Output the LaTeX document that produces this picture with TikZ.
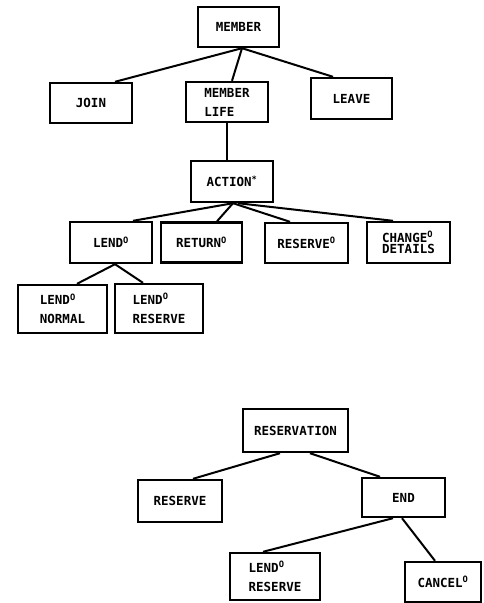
\documentclass[tikz,border=0pt]{standalone}
\usepackage{fontspec}
\setmonofont{DejaVu Sans Mono}
\begin{document}
\begin{tikzpicture}[x=1pt,y=-1pt,
  box/.style={draw, line width=2.4pt, inner sep=0pt, font=\ttfamily\bfseries\fontsize{12.5}{19}\selectfont, align=left},
  tight/.style={font=\ttfamily\bfseries\fontsize{12.5}{11.5}\selectfont},
  link/.style={line width=2pt}]
\newcommand{\opt}{\textsuperscript{O}}
\useasboundingbox (0,0) rectangle (483,603);
% upper structure
\node[box, minimum width=81pt, minimum height=40pt] (member) at (238.5,27) {MEMBER};
\node[box, minimum width=82pt, minimum height=40pt] (join) at (91,103) {JOIN};
\node[box, minimum width=82pt, minimum height=40pt] (life) at (227,102) {MEMBER\\LIFE};
\node[box, minimum width=81pt, minimum height=41pt] (leave) at (351.5,98.5) {LEAVE};
\node[box, minimum width=82pt, minimum height=41pt] (action) at (232,181.5) {ACTION\textsuperscript{*}};
\node[box, minimum width=82pt, minimum height=41pt] (lend) at (111,242.5) {LEND\opt};
\node[box, minimum width=81pt, minimum height=40pt] (return) at (201.5,242.5) {RETURN\opt};
\node[box, minimum width=83pt, minimum height=40pt] (reserve) at (306.5,243) {RESERVE\opt};
\node[box, tight, minimum width=83pt, minimum height=41pt] (change) at (408.5,242.5) {CHANGE\opt\\DETAILS};
\node[box, minimum width=89pt, minimum height=48pt] (normal) at (62.5,309) {LEND\opt\\NORMAL};
\node[box, minimum width=88pt, minimum height=49pt] (lres) at (159,308.5) {LEND\opt\\RESERVE};
% lower structure
\node[box, minimum width=105pt, minimum height=43pt] (reservation) at (295.5,430.5) {RESERVATION};
\node[box, minimum width=84pt, minimum height=42pt] (res) at (180,501) {RESERVE};
\node[box, minimum width=83pt, minimum height=39pt] (end) at (403.5,497.5) {END};
\node[box, minimum width=90pt, minimum height=47pt] (lres2) at (275,576.5) {LEND\opt\\RESERVE};
\node[box, minimum width=76pt, minimum height=40pt] (cancel) at (443,582) {CANCEL\opt};
% connectors
\draw[link] ([xshift=3.5pt]member.south) -- ([xshift=24pt]join.north);
\draw[link] ([xshift=3.5pt]member.south) -- ([xshift=5pt]life.north);
\draw[link] ([xshift=3.5pt]member.south) -- ([xshift=-18.5pt]leave.north);
\draw[link] (life.south) -- ([xshift=-5pt]action.north);
\draw[link] ([xshift=1pt]action.south) -- ([xshift=22pt]lend.north);
\draw[link] ([xshift=1pt]action.south) -- ([xshift=15.5pt]return.north);
\draw[link] ([xshift=1pt]action.south) -- ([xshift=-16.5pt]reserve.north);
\draw[link] ([xshift=6pt]action.south) -- ([xshift=-15.5pt]change.north);
\draw[link] ([xshift=4pt]lend.south) -- ([xshift=14.5pt]normal.north);
\draw[link] ([xshift=4pt]lend.south) -- ([xshift=-16pt]lres.north);
\draw[link] ([xshift=-15.5pt]reservation.south) -- ([xshift=13pt]res.north);
\draw[link] ([xshift=14.5pt]reservation.south) -- ([xshift=-23.5pt]end.north);
\draw[link] ([xshift=-10.5pt]end.south) -- ([xshift=-12pt]lres2.north);
\draw[link] ([xshift=-1.5pt]end.south) -- ([xshift=-8pt]cancel.north);
\end{tikzpicture}
\end{document}
